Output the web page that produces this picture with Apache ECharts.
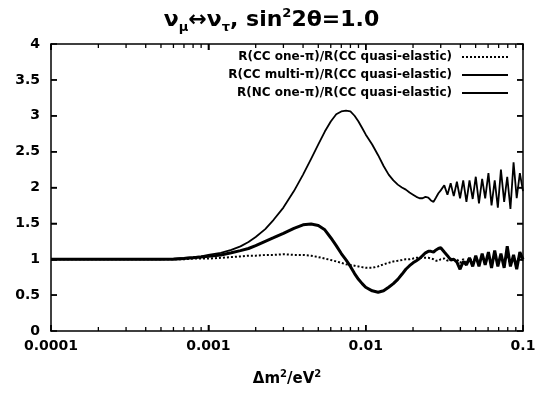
<!DOCTYPE html>
<html><head><meta charset="utf-8">
<script src="https://cdn.jsdelivr.net/npm/echarts@6/dist/echarts.min.js"></script>
<style>html,body{margin:0;padding:0;background:#fff}#c{width:543px;height:395px}</style>
</head><body><div id="c"></div>
<script>
// Δm² values (eV²)
const dm2 = [
  0.0001, 0.0002, 0.0003, 0.0004, 0.0005, 0.0006, 0.0007, 0.0008, 0.0009, 0.001,
  0.0012, 0.0014, 0.0016, 0.0018, 0.002, 0.0023, 0.0026, 0.003, 0.0035, 0.004,
  0.0045, 0.005, 0.0055, 0.006, 0.0065, 0.007, 0.0075, 0.008, 0.0085, 0.009,
  0.0095, 0.01, 0.011, 0.012, 0.013, 0.014, 0.015, 0.016, 0.017, 0.018,
  0.019, 0.02, 0.021, 0.022, 0.023, 0.024, 0.025, 0.026, 0.027, 0.028,
  0.029, 0.030, 0.0316, 0.0331, 0.0347, 0.0363, 0.0380, 0.0398, 0.0417, 0.0437,
  0.0457, 0.0479, 0.0501, 0.0525, 0.0550, 0.0575, 0.0603, 0.0631, 0.0661, 0.0692,
  0.0724, 0.0759, 0.0794, 0.0832, 0.0871, 0.0912, 0.0955, 0.1
];
// R(CC one-pi)/R(CC quasi-elastic)  (dotted)
const ccOnePi = [
  1.0, 1.0, 1.0, 1.0, 1.0, 1.0, 1.0, 1.01, 1.01, 1.01,
  1.02, 1.03, 1.04, 1.05, 1.05, 1.06, 1.06, 1.07, 1.06, 1.06,
  1.05, 1.03, 1.01, 0.99, 0.97, 0.95, 0.93, 0.92, 0.91, 0.9,
  0.89, 0.88, 0.88, 0.9, 0.93, 0.95, 0.97, 0.98, 0.99, 1.0,
  1.0, 1.01, 1.02, 1.02, 1.02, 1.02, 1.02, 1.01, 1.0, 0.98,
  0.98, 1.0, 1.01, 0.98, 1.01, 0.99, 1.0, 0.95, 1.0, 0.96,
  1.02, 0.95, 1.02, 0.96, 1.04, 0.94, 1.05, 0.94, 1.06, 0.93,
  1.04, 0.95, 1.06, 0.92, 1.03, 0.95, 1.05, 0.98
];
// R(CC multi-pi)/R(CC quasi-elastic)  (thick solid)
const ccMultiPi = [
  1.0, 1.0, 1.0, 1.0, 1.0, 1.0, 1.01, 1.02, 1.03, 1.04,
  1.06, 1.09, 1.12, 1.15, 1.19, 1.25, 1.3, 1.36, 1.43, 1.48,
  1.49, 1.47, 1.41, 1.3, 1.19, 1.08, 0.99, 0.9, 0.8, 0.72,
  0.66, 0.61, 0.56, 0.54, 0.56, 0.61, 0.66, 0.72, 0.79, 0.86,
  0.91, 0.95, 0.98, 1.01, 1.05, 1.09, 1.11, 1.11, 1.1, 1.13,
  1.15, 1.16, 1.1, 1.05, 0.99, 1.0, 0.96, 0.86, 0.97, 0.92,
  1.02, 0.9, 1.05, 0.9, 1.08, 0.92, 1.1, 0.88, 1.12, 0.9,
  1.08, 0.88, 1.18, 0.9, 1.06, 0.86, 1.1, 1.0
];
// R(NC one-pi)/R(CC quasi-elastic)  (thin solid)
const ncOnePi = [
  1.0, 1.0, 1.0, 1.0, 1.0, 1.01, 1.02, 1.03, 1.04, 1.06,
  1.09, 1.13, 1.18, 1.24, 1.31, 1.42, 1.55, 1.72, 1.95, 2.18,
  2.4, 2.6, 2.78, 2.92, 3.02, 3.06, 3.07, 3.06, 3.0, 2.92,
  2.83, 2.74, 2.6, 2.45, 2.3, 2.18, 2.1, 2.04, 2.0, 1.97,
  1.93, 1.9, 1.87, 1.85, 1.85, 1.87, 1.86, 1.82, 1.8, 1.86,
  1.92, 1.96, 2.03, 1.9, 2.06, 1.88, 2.08, 1.85, 2.1, 1.8,
  2.1, 1.84, 2.15, 1.78, 2.12, 1.85, 2.2, 1.75, 2.1, 1.72,
  2.25, 1.8, 2.15, 1.7, 2.35, 1.85, 2.2, 1.95
];
const seriesNames = [
  'R(CC one-\u03c0)/R(CC quasi-elastic)',
  'R(CC multi-\u03c0)/R(CC quasi-elastic)',
  'R(NC one-\u03c0)/R(CC quasi-elastic)'
];
const xTickValues = [0.0001, 0.001, 0.01, 0.1];
const xTickLabels = ['0.0001', '0.001', '0.01', '0.1'];
const xMinorTicks = [
  0.0002, 0.0003, 0.0004, 0.0005, 0.0006, 0.0007, 0.0008, 0.0009,
  0.002, 0.003, 0.004, 0.005, 0.006, 0.007, 0.008, 0.009,
  0.02, 0.03, 0.04, 0.05, 0.06, 0.07, 0.08, 0.09
];
const yTickValues = [0.5, 1, 1.5, 2, 2.5, 3, 3.5];

const FONT = 'DejaVu Sans';
const pairs = ys => dm2.map((x, i) => [x, ys[i]]);
function xLabel(v) {
  let best = 0;
  for (let i = 1; i < xTickValues.length; i++) {
    if (Math.abs(Math.log10(v) - Math.log10(xTickValues[i])) < Math.abs(Math.log10(v) - Math.log10(xTickValues[best]))) best = i;
  }
  return xTickLabels[best];
}
function tick() { return { show: true, inside: true, length: 6, lineStyle: { color: '#000', width: 1.5 } }; }
function frameLine() { return { show: true, onZero: false, lineStyle: { color: '#000', width: 1.5 } }; }
const legendCommon = {
  orient: 'vertical', right: 34, padding: 0, align: 'right', itemWidth: 46, itemHeight: 14,
  itemStyle: { opacity: 0 },
  textStyle: { fontFamily: FONT, fontWeight: 'bold', fontSize: 12, color: '#000', padding: [0, 5, 0, 0] },
  selectedMode: false
};

const chart = echarts.init(document.getElementById('c'));
chart.setOption({
  animation: false,
  backgroundColor: '#fff',
  title: {
    left: 'center', top: 2,
    text: '{a|\u03bd}{sub|\u03bc}{a|\u2194\u03bd}{sub|\u03c4}{a|, sin}{sup|2}{a|2\u03b8=1.0}',
    textStyle: {
      rich: {
        a: { fontFamily: FONT, fontWeight: 'bold', fontSize: 22, color: '#000', lineHeight: 27 },
        sub: { fontFamily: FONT, fontWeight: 'bold', fontSize: 13, color: '#000', lineHeight: 13, verticalAlign: 'bottom' },
        sup: { fontFamily: FONT, fontWeight: 'bold', fontSize: 13, color: '#000', lineHeight: 13, verticalAlign: 'top' }
      }
    }
  },
  legend: [
    Object.assign({ top: 51, data: [seriesNames[0]] }, legendCommon),
    Object.assign({ top: 69, data: [seriesNames[1]] }, legendCommon),
    Object.assign({ top: 87, data: [seriesNames[2]] }, legendCommon)
  ],
  grid: { left: 51, right: 20, top: 44, bottom: 64 },
  xAxis: [
    {
      type: 'log', min: 0.0001, max: 0.1, position: 'bottom',
      axisLine: frameLine(), axisTick: tick(), splitLine: { show: false },
      axisLabel: { formatter: xLabel, margin: 8, fontFamily: FONT, fontWeight: 'bold', fontSize: 14, color: '#000' },
      name: '{a|\u0394m}{sup|2}{a|/eV}{sup|2}', nameLocation: 'middle', nameGap: 38,
      nameTextStyle: {
        rich: {
          a: { fontFamily: FONT, fontWeight: 'bold', fontSize: 15, color: '#000', lineHeight: 20 },
          sup: { fontFamily: FONT, fontWeight: 'bold', fontSize: 10, color: '#000', lineHeight: 10, verticalAlign: 'top' }
        }
      }
    },
    {
      type: 'log', min: 0.0001, max: 0.1, position: 'top',
      axisLine: frameLine(), axisTick: tick(), splitLine: { show: false },
      axisLabel: { show: false }
    }
  ],
  yAxis: [
    {
      type: 'value', min: 0, max: 4, interval: 0.5, position: 'left',
      axisLine: frameLine(), axisTick: tick(), splitLine: { show: false },
      axisLabel: { margin: 11, fontFamily: FONT, fontWeight: 'bold', fontSize: 14, color: '#000' }
    },
    {
      type: 'value', min: 0, max: 4, interval: 0.5, position: 'right',
      axisLine: frameLine(), axisTick: tick(), splitLine: { show: false },
      axisLabel: { show: false }
    }
  ],
  series: [
    {
      name: seriesNames[0], type: 'line', data: pairs(ccOnePi), symbol: 'none',
      lineStyle: { color: '#000', width: 2, type: [2, 2] }, itemStyle: { color: '#000' }, z: 3
    },
    {
      name: seriesNames[1], type: 'line', data: pairs(ccMultiPi), symbol: 'none',
      lineStyle: { color: '#000', width: 3 }, itemStyle: { color: '#000' }, z: 4
    },
    {
      name: seriesNames[2], type: 'line', data: pairs(ncOnePi), symbol: 'none',
      lineStyle: { color: '#000', width: 1.8 }, itemStyle: { color: '#000' }, z: 2
    }
  ]
});

// Tick marks on all four sides, placed through the chart's own scales.
const finder = { xAxisIndex: 0, yAxisIndex: 0 };
const tickEls = [];
function seg(x1, y1, x2, y2) {
  tickEls.push({ type: 'line', z: 100, silent: true, shape: { x1: x1, y1: y1, x2: x2, y2: y2 }, style: { stroke: '#000', lineWidth: 1.3 } });
}
xTickValues.forEach(v => {
  const b = chart.convertToPixel(finder, [v, 0]);
  const t = chart.convertToPixel(finder, [v, 4]);
  seg(b[0], b[1], b[0], b[1] - 6);
  seg(t[0], t[1], t[0], t[1] + 6);
});
xMinorTicks.forEach(v => {
  const b = chart.convertToPixel(finder, [v, 0]);
  const t = chart.convertToPixel(finder, [v, 4]);
  seg(b[0], b[1], b[0], b[1] - 4);
  seg(t[0], t[1], t[0], t[1] + 4);
});
yTickValues.forEach(v => {
  const l = chart.convertToPixel(finder, [0.0001, v]);
  const r = chart.convertToPixel(finder, [0.1, v]);
  seg(l[0], l[1], l[0] + 6, l[1]);
  seg(r[0], r[1], r[0] - 6, r[1]);
});
chart.setOption({ graphic: { elements: tickEls } });
</script>
</body></html>
